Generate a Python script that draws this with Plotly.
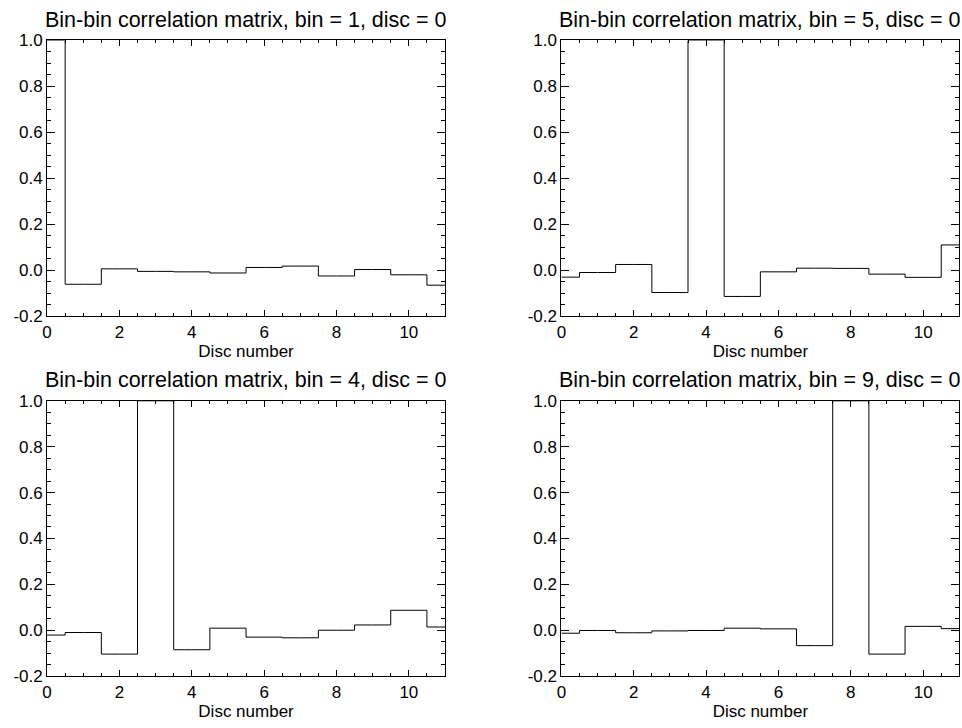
import plotly.graph_objects as go

disc = list(range(12))
bins = [1, 5, 4, 9]
corr_bin1 = [1.0, -0.060, 0.007, -0.004, -0.006, -0.011, 0.013, 0.019, -0.024, 0.004, -0.019, -0.064]
corr_bin5 = [-0.029, -0.009, 0.026, -0.096, 1.0, -0.113, -0.006, 0.010, 0.009, -0.016, -0.030, 0.111]
corr_bin4 = [-0.021, -0.010, -0.104, 1.0, -0.085, 0.009, -0.030, -0.033, 0.000, 0.023, 0.087, 0.014]
corr_bin9 = [-0.013, -0.001, -0.011, -0.003, -0.001, 0.009, 0.006, -0.067, 1.0, -0.104, 0.017, 0.007]
series = [corr_bin1, corr_bin5, corr_bin4, corr_bin9]
x_ticks = [0, 2, 4, 6, 8, 10]
y_ticks = [-0.2, 0.0, 0.2, 0.4, 0.6, 0.8, 1.0]

W, H = 962, 728
FONT = "Liberation Sans, Arial, Helvetica, sans-serif"
# panel pixel boxes: (left, right, top, bottom)
boxes = [(42.3, 442.3, 32.3, 315.7), (559.3, 959.3, 32.3, 315.7),
         (42.3, 442.3, 402.3, 685.0), (559.3, 959.3, 402.3, 685.0)]

fig = go.Figure()
annotations = []
for i, (vals, b, box) in enumerate(zip(series, bins, boxes)):
    n = "" if i == 0 else str(i + 1)
    l, r, t, btm = box
    fig.add_trace(go.Scatter(x=disc, y=vals, mode="lines", line=dict(shape="hvh", color="black", width=1),
                             xaxis="x" + n, yaxis="y" + n, showlegend=False, hoverinfo="skip"))
    common = dict(showline=True, linecolor="black", linewidth=1, mirror="ticks", ticks="inside",
                  showgrid=False, zeroline=False, tickcolor="black", tickwidth=1,
                  tickfont=dict(family=FONT, size=17, color="black"))
    fig.layout["xaxis" + n] = dict(domain=[l / W, r / W], range=[0, 11], anchor="y" + n,
                                   tickvals=x_ticks, ticktext=[str(v) for v in x_ticks], ticklen=6,
                                   minor=dict(dtick=0.5, ticklen=3, ticks="inside", tickcolor="black", showgrid=False),
                                   title=dict(text="Disc number", font=dict(family=FONT, size=17, color="black"), standoff=0),
                                   **common)
    fig.layout["yaxis" + n] = dict(domain=[1 - btm / H, 1 - t / H], range=[-0.2, 1.0], anchor="x" + n,
                                   tickvals=y_ticks, ticktext=["%.1f" % v for v in y_ticks], ticklen=8,
                                   minor=dict(dtick=0.05, ticklen=4, ticks="inside", tickcolor="black", showgrid=False),
                                   **common)
    annotations.append(dict(text=f"Bin-bin correlation matrix, bin = {b}, disc = 0",
                            x=(l + r) / 2 / W, y=1 - (t - 21) / H, xref="paper", yref="paper",
                            xanchor="center", yanchor="middle", showarrow=False,
                            font=dict(family=FONT, size=21.5, color="black")))

fig.update_layout(width=W, height=H, margin=dict(l=0, r=0, t=0, b=0, pad=0),
                  paper_bgcolor="white", plot_bgcolor="white", annotations=annotations,
                  font=dict(family=FONT, color="black"))
fig.write_html("out.html")
